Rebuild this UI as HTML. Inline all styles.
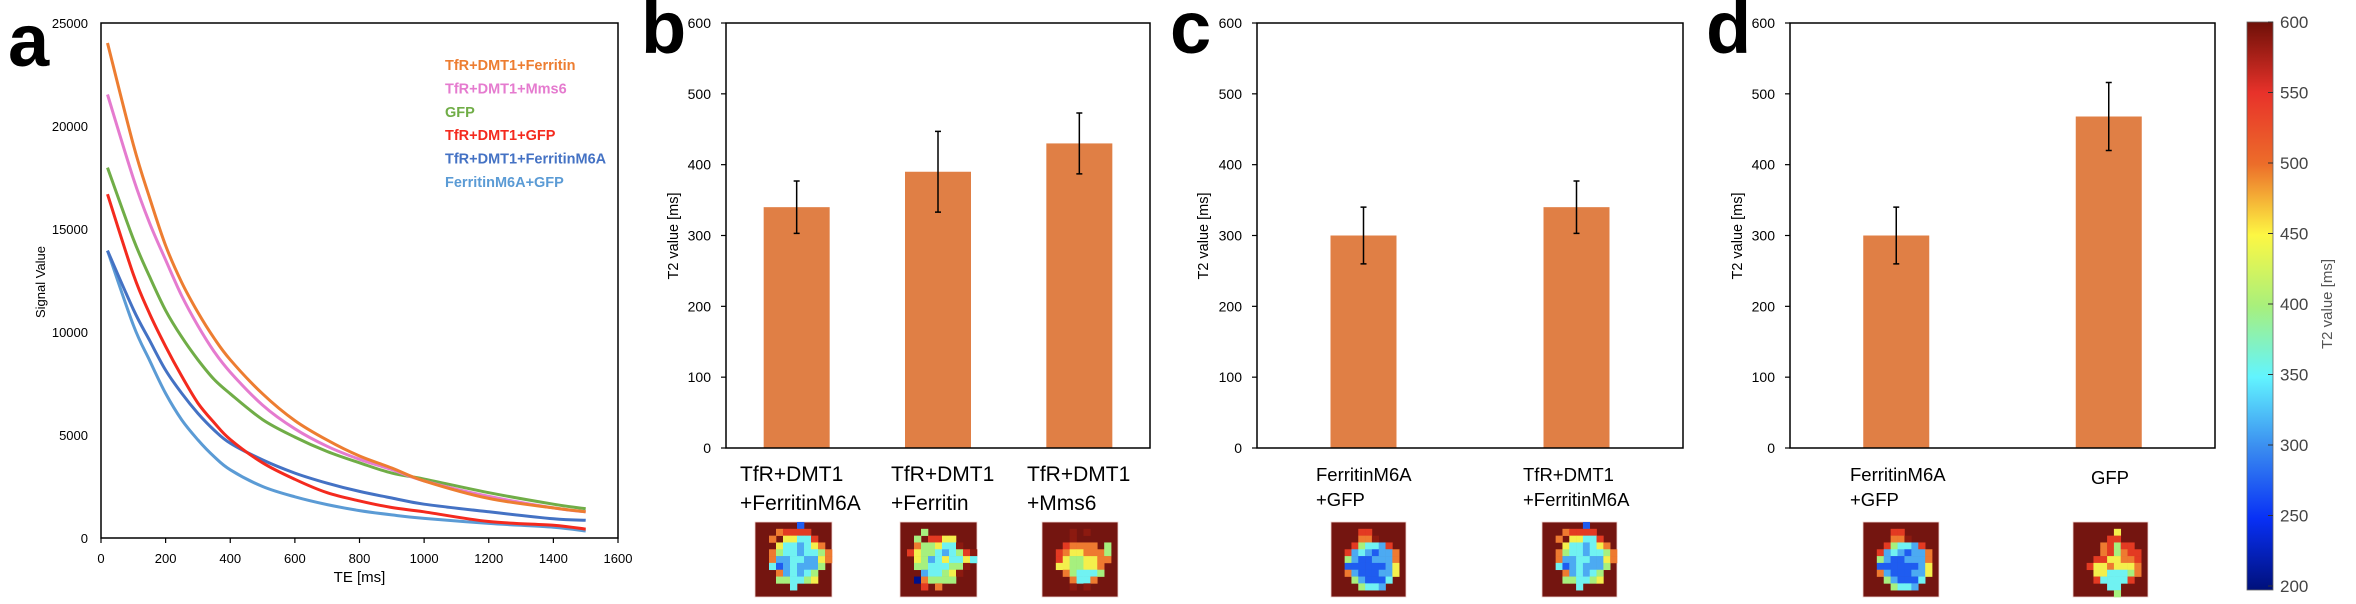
<!DOCTYPE html>
<html><head><meta charset="utf-8">
<style>
html,body{margin:0;padding:0;background:#fff;}
svg{display:block;font-family:"Liberation Sans",sans-serif;}
</style></head>
<body>
<svg id="fig" width="2356" height="604" viewBox="0 0 2356 604" xmlns="http://www.w3.org/2000/svg">
<defs>
<linearGradient id="jet" x1="0" y1="1" x2="0" y2="0">
<stop offset="0" stop-color="#00107a"/><stop offset="0.125" stop-color="#0830f5"/>
<stop offset="0.25" stop-color="#3a8cf0"/><stop offset="0.375" stop-color="#62f4ff"/>
<stop offset="0.5" stop-color="#a8f07c"/><stop offset="0.625" stop-color="#fdf743"/>
<stop offset="0.75" stop-color="#ec6d2a"/><stop offset="0.875" stop-color="#e8322a"/>
<stop offset="1" stop-color="#6e1008"/>
</linearGradient>
</defs>
</svg>
<script>
// ---- Panel a data ----
const teValues = [20, 100, 150, 200, 250, 300, 350, 400, 500, 600, 700, 800, 900, 1000, 1200, 1400, 1500];
const sFerritin = [24030, 19100, 16530, 14200, 12400, 10950, 9700, 8650, 7000, 5700, 4750, 3980, 3400, 2770, 1920, 1460, 1270];
const sMms6     = [21530, 17460, 15300, 13500, 11750, 10300, 9050, 8050, 6450, 5300, 4450, 3820, 3320, 2770, 2020, 1460, 1270];
const sGFP      = [17980, 14520, 12700, 11050, 9750, 8650, 7700, 7000, 5750, 4900, 4200, 3650, 3150, 2860, 2200, 1640, 1420];
const sTfrGFP   = [16690, 12800, 10900, 9300, 7850, 6550, 5600, 4780, 3650, 2850, 2200, 1800, 1480, 1270, 800, 620, 430];
const sTfrM6A   = [13950, 11100, 9600, 8150, 7020, 6050, 5240, 4600, 3790, 3150, 2660, 2260, 1940, 1640, 1270, 930, 860];
const sM6AGFP   = [13950, 10340, 8630, 7020, 5730, 4760, 3950, 3310, 2500, 2000, 1620, 1330, 1120, 950, 710, 520, 340];
const seriesNames = ["TfR+DMT1+Ferritin","TfR+DMT1+Mms6","GFP","TfR+DMT1+GFP","TfR+DMT1+FerritinM6A","FerritinM6A+GFP"];
const seriesColors = ["#ed7d31","#e57bcf","#70ad47","#f42a1e","#4472c4","#5b9bd5"];
const xTicksA = [0,200,400,600,800,1000,1200,1400,1600];
const yTicksA = [0,5000,10000,15000,20000,25000];
// ---- Bar panels data ----
const catsB = [["TfR+DMT1","+FerritinM6A"],["TfR+DMT1","+Ferritin"],["TfR+DMT1","+Mms6"]];
const valsB = [340, 390, 430];
const errsB = [37, 57, 43];
const catsC = [["FerritinM6A","+GFP"],["TfR+DMT1","+FerritinM6A"]];
const valsC = [300, 340];
const errsC = [40, 37];
const catsD = [["FerritinM6A","+GFP"],["GFP"]];
const valsD = [300, 468];
const errsD = [40, 48];
const yTicksBar = [0,100,200,300,400,500,600];
const cbTicks = [200,250,300,350,400,450,500,550,600];

const NS="http://www.w3.org/2000/svg";
const svg=document.getElementById('fig');
function mk(tag,attrs,parent){const e=document.createElementNS(NS,tag);for(const k in attrs)e.setAttribute(k,attrs[k]);(parent||svg).appendChild(e);return e;}
function txt(s,attrs,parent){const e=mk('text',attrs,parent);e.textContent=s;return e;}

// ===== Panel a =====
const gA=mk('g',{});


const aL=101,aR=618,aT=23,aB=538;
const xA=v=>aL+v/1600*(aR-aL);
const yA=v=>aB-v/25000*(aB-aT);
let t=txt('a',{x:8,y:66,'font-size':74,'font-weight':'bold',fill:'#000'},gA);

let r=mk('rect',{x:aL,y:aT,width:aR-aL,height:aB-aT,fill:'none',stroke:'#000','stroke-width':1.5},gA);

xTicksA.forEach(v=>{
  const l=mk('line',{x1:xA(v),x2:xA(v),y1:aB,y2:aB+5,stroke:'#000','stroke-width':1.2},gA);
  
  const e=txt(String(v),{x:xA(v),y:563,'text-anchor':'middle','font-size':13,fill:'#000'},gA);
  
});
yTicksA.forEach(v=>{
  const e=txt(String(v),{x:88,y:yA(v)+5,'text-anchor':'end','font-size':13,fill:'#000'},gA);
  
});
t=txt('TE [ms]',{x:xA(800),y:582,'text-anchor':'middle','font-size':15,fill:'#000'},gA);

t=txt('Signal Value',{x:0,y:0,'text-anchor':'middle','font-size':13,fill:'#000',transform:'translate(45,282) rotate(-90)'},gA);

function smoothPath(xs,ys){
  const P=xs.map((x,i)=>[xA(x),yA(ys[i])]);
  let d='M'+P[0][0].toFixed(1)+','+P[0][1].toFixed(1);
  for(let i=0;i<P.length-1;i++){
    const p0=P[Math.max(0,i-1)],p1=P[i],p2=P[i+1],p3=P[Math.min(P.length-1,i+2)];
    const c1=[p1[0]+(p2[0]-p0[0])/6,p1[1]+(p2[1]-p0[1])/6];
    const c2=[p2[0]-(p3[0]-p1[0])/6,p2[1]-(p3[1]-p1[1])/6];
    d+=' C'+c1.map(v=>v.toFixed(1)).join(',')+' '+c2.map(v=>v.toFixed(1)).join(',')+' '+p2.map(v=>v.toFixed(1)).join(',');
  }
  return d;
}
const allSeries=[sFerritin,sMms6,sGFP,sTfrGFP,sTfrM6A,sM6AGFP];
const drawOrder=[5,4,3,2,1,0];
drawOrder.forEach(i=>{
  const p=mk('path',{d:smoothPath(teValues,allSeries[i]),fill:'none',stroke:seriesColors[i],'stroke-width':3,'stroke-linejoin':'round'},gA);
  
  
});
seriesNames.forEach((n,i)=>{
  const e=txt(n,{x:445,y:70+i*23.4,'font-size':14.5,'font-weight':'bold',fill:seriesColors[i]},gA);
  
});

// ===== Heatmap tiles =====
const cellColors={'.':'#741510','R':'#8c1a10','r':'#e33a22','o':'#ee7a30','y':'#f4ef4c','g':'#a6f07e','c':'#70f2f2','l':'#4caaf2','b':'#1f5cf0','n':'#001088'};
const gridM6AGFP=["...........","....rr.....","....ooR....","...rgcclr..","..rlclbllo.","..glbblllo.","..bbbbbbly.","..olbbblly.","...glbbbc..","....gccl...","..........."];
const gridGFP=["...........","......y....",".....rr....","....orgrr..","....orgorr.","...rryyoor.","..ryyoyyyo.","...yycccgo.","...rccccr..",".....cc....","......g...."];
const gridTfrM6A=["......b....","...orrrr...","..o.yyccr..","...ycclcyo.","..ogcclccgo","..ollccllyo","..cblclllg.","...olclcg..","...ggccgy..",".....c.....","..........."];
const gridFerritin=["...........","...g.......","..g.rryy...","..oggyccR..",".ryggclcgrR","..yglcyccyc","..ggcccggR.","...lccgyR..","..nogggg...","...r.o.....","..........."];
const gridMms6=["...........","....R.R....","....R......","...roooo.g.","..royyooog.","..ryggyyoo.","..yyggyyo..","...ogcccg..","....occo...","....R.R....","..........."];
function tile(x,y,w,grid,name){
  const g=mk('g',{});
  
  mk('rect',{x:x,y:y,width:w,height:75,fill:cellColors['.'],stroke:'#f1d6d2','stroke-width':0.8},g);
  const n=grid.length,cw=w/n,ch=75/n;
  grid.forEach((row,j)=>{[...row].forEach((c,i)=>{
    if(c==='.')return;
    mk('rect',{x:(x+i*cw).toFixed(2),y:(y+j*ch).toFixed(2),width:(cw+0.3).toFixed(2),height:(ch+0.3).toFixed(2),fill:cellColors[c]},g);
  });});
}

// ===== Bar panels =====
function barPanel(opts){
  const {L,R,letter,letterX,cats,vals,errs,ylabX,tickLabX,catFont,catAnchor,tiles,name}=opts;
  const T=23,B=448;
  const g=mk('g',{});
  
  const y=v=>B-v/600*(B-T);
  const slot=(R-L)/cats.length;
  let e=txt(letter,{x:letterX,y:53,'font-size':74,'font-weight':'bold',fill:'#000'},g);
  
  yTicksBar.forEach(v=>{
    const l=mk('line',{x1:L-5,x2:L,y1:y(v),y2:y(v),stroke:'#000','stroke-width':1.2},g);
    
    const tl=txt(String(v),{x:tickLabX,y:y(v)+5,'text-anchor':'end','font-size':14,fill:'#000'},g);
    
  });
  e=txt('T2 value [ms]',{x:0,y:0,'text-anchor':'middle','font-size':14.5,fill:'#000',transform:'translate('+ylabX+',236) rotate(-90)'},g);
  
  vals.forEach((v,i)=>{
    const cx=L+(i+0.5)*slot,bw=66;
    const b=mk('rect',{x:cx-bw/2,y:y(v),width:bw,height:B-y(v),fill:'#e07f45'},g);
    
    const eb=mk('path',{d:'M'+cx+','+y(v+errs[i])+'V'+y(v-errs[i])+'M'+(cx-3)+','+y(v+errs[i])+'H'+(cx+3)+'M'+(cx-3)+','+y(v-errs[i])+'H'+(cx+3),stroke:'#000','stroke-width':1.5,fill:'none'},g);
    
    const lines=cats[i];
    lines.forEach((s,k)=>{
      const a=catAnchor[i];
      const tx=txt(s,{x:a.x,y:(lines.length===1?484:481+k*(catFont>20?29:25)),'text-anchor':a.anchor,'font-size':catFont,fill:'#000'},g);
      
    });
  });
  mk('rect',{x:L,y:T,width:R-L,height:B-T,fill:'none',stroke:'#000','stroke-width':1.5},g);
  tiles.forEach(tl=>tile(tl[0],522,tl[1],tl[2],tl[3]));
}
barPanel({L:726,R:1150,letter:'b',letterX:641,cats:catsB,vals:valsB,errs:errsB,ylabX:678,tickLabX:711,catFont:21,
  catAnchor:[{x:740,anchor:'start'},{x:891,anchor:'start'},{x:1027,anchor:'start'}],
  tiles:[[755,77,gridTfrM6A,'t2-map-tfr-dmt1-ferritinm6a'],[900,77,gridFerritin,'t2-map-tfr-dmt1-ferritin'],[1042,76,gridMms6,'t2-map-tfr-dmt1-mms6']],name:'panel-b-bar-chart'});
barPanel({L:1257,R:1683,letter:'c',letterX:1170,cats:catsC,vals:valsC,errs:errsC,ylabX:1208,tickLabX:1242,catFont:18.5,
  catAnchor:[{x:1316,anchor:'start'},{x:1523,anchor:'start'}],
  tiles:[[1331,75,gridM6AGFP,'t2-map-ferritinm6a-gfp'],[1542,75,gridTfrM6A,'t2-map-tfr-dmt1-ferritinm6a']],name:'panel-c-bar-chart'});
barPanel({L:1790,R:2215,letter:'d',letterX:1706,cats:catsD,vals:valsD,errs:errsD,ylabX:1742,tickLabX:1775,catFont:18.5,
  catAnchor:[{x:1850,anchor:'start'},{x:2110,anchor:'middle'}],
  tiles:[[1863,76,gridM6AGFP,'t2-map-ferritinm6a-gfp'],[2073,75,gridGFP,'t2-map-gfp']],name:'panel-d-bar-chart'});

// ===== Colorbar =====
const gC=mk('g',{});

const cbT=22,cbB=586;
const yC=v=>cbB-(v-200)/400*(cbB-cbT);
mk('rect',{x:2247,y:cbT,width:26,height:cbB-cbT+4,fill:'url(#jet)',stroke:'#666','stroke-width':0.8},gC);
cbTicks.forEach(v=>{
  const l=mk('line',{x1:2268,x2:2273,y1:yC(v),y2:yC(v),stroke:'#333','stroke-width':1},gC);
  
  const e=txt(String(v),{x:2280,y:yC(v)+6,'font-size':17,fill:'#444'},gC);
  
});
t=txt('T2 value [ms]',{x:0,y:0,'text-anchor':'middle','font-size':15,fill:'#555',transform:'translate(2332,304) rotate(-90)'},gC);

</script>
</body></html>
